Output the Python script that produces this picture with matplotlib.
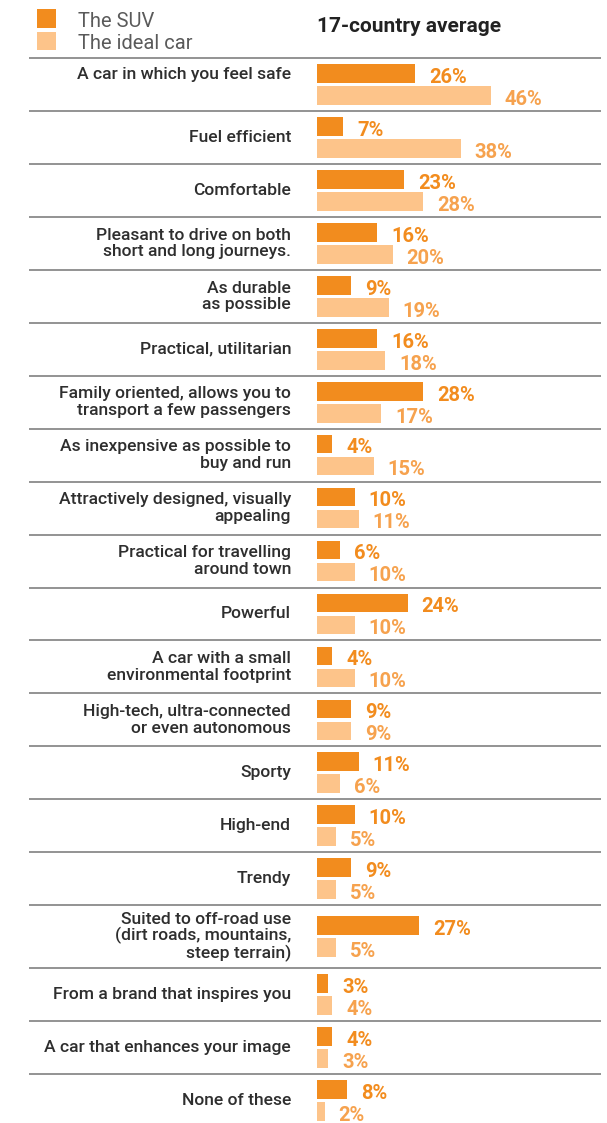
import matplotlib
matplotlib.use('Agg')
import matplotlib.pyplot as plt
import matplotlib.transforms as mtransforms
from matplotlib.patches import Rectangle

W, H = 607, 1123

categories = [
    'A car in which you feel safe',
    'Fuel efficient',
    'Comfortable',
    'Pleasant to drive on both\nshort and long journeys.',
    'As durable\nas possible',
    'Practical, utilitarian',
    'Family oriented, allows you to\ntransport a few passengers',
    'As inexpensive as possible to\nbuy and run',
    'Attractively designed, visually\nappealing',
    'Practical for travelling\naround town',
    'Powerful',
    'A car with a small\nenvironmental footprint',
    'High-tech, ultra-connected\nor even autonomous',
    'Sporty',
    'High-end',
    'Trendy',
    'Suited to off-road use\n(dirt roads, mountains,\nsteep terrain)',
    'From a brand that inspires you',
    'A car that enhances your image',
    'None of these',
]
suv = [26, 7, 23, 16, 9, 16, 28, 4, 10, 6, 24, 4, 9, 11, 10, 9, 27, 3, 4, 8]
ideal = [46, 38, 28, 20, 19, 18, 17, 15, 11, 10, 10, 10, 9, 6, 5, 5, 5, 4, 3, 2]
legend_labels = ['The SUV', 'The ideal car']
title = '17-country average'

SUV_COL = '#F28C1E'
IDEAL_COL = '#FDC48A'
SUV_TXT = '#F28C1E'
IDEAL_TXT = '#F6A24E'
LABEL_COL = '#2e2e2e'

plt.rcParams['font.family'] = ['Roboto', 'DejaVu Sans']

fig = plt.figure(figsize=(W / 100, H / 100), dpi=100)

# axes for the bars: x in percent, y in pixels from the top
x0 = 317
px_per_pct = 3.78
ax = fig.add_axes([x0 / W, 0, (W - x0) / W, 1])
ax.set_xlim(0, (W - x0) / px_per_pct)
ax.set_ylim(H, 0)
ax.axis('off')

fig_x = mtransforms.blended_transform_factory(fig.transFigure, ax.transData)

# row layout
first_line = 58
row_h = 52.95
row_h3 = 63
bar_h = 18.7
tops = []
heights = []
y = first_line
for c in categories:
    h = row_h3 if c.count('\n') >= 2 else row_h
    tops.append(y)
    heights.append(h)
    y += h
centers = [t + h / 2 for t, h in zip(tops, heights)]

suv_y = [c - 11 for c in centers]
ideal_y = [c + 11 for c in centers]

ax.barh(suv_y, suv, height=bar_h, color=SUV_COL, linewidth=0)
ax.barh(ideal_y, ideal, height=bar_h, color=IDEAL_COL, linewidth=0)

gap = 14 / px_per_pct
for i in range(len(categories)):
    ax.text(suv[i] + gap, suv_y[i] + bar_h / 2, f'{suv[i]}%', color=SUV_TXT,
            fontsize=14.5, fontweight='bold', ha='left', va='baseline')
    ax.text(ideal[i] + gap, ideal_y[i] + bar_h / 2, f'{ideal[i]}%', color=IDEAL_TXT,
            fontsize=14.5, fontweight='bold', ha='left', va='baseline')
    label_y = suv_y[i] + 1 if i == 0 else centers[i]
    nlines = categories[i].count('\n') + 1
    ax.text(291 / W, label_y, categories[i], transform=fig_x, ha='right', va='center',
            fontsize=12.6, color=LABEL_COL, fontweight='medium',
            linespacing=1.02 if nlines > 2 else 1.12)

# separators
for t in tops:
    ax.plot([29 / W, 601 / W], [t, t], transform=fig_x, color='#8a8a8a', lw=1.3,
            clip_on=False, solid_capstyle='butt')

# header
fig.text(317 / W, 1 - 31.7 / H, title, fontsize=15, fontweight='bold', color='#222222',
         ha='left', va='baseline')

sq = [(9, SUV_COL), (31.7, IDEAL_COL)]
for (ty, col), lab in zip(sq, legend_labels):
    fig.add_artist(Rectangle((37 / W, 1 - (ty + 18.5) / H), 19 / W, 18.5 / H,
                             transform=fig.transFigure, color=col, lw=0))
    fig.text(77.7 / W, 1 - (ty + 17.7) / H, lab, fontsize=14.5, color='#5a5a5a',
             ha='left', va='baseline')

fig.savefig('out.png', dpi=100)
